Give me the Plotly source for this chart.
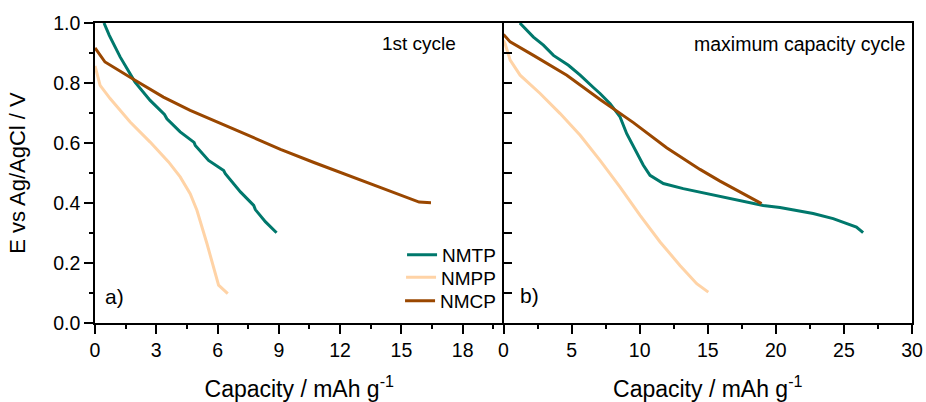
import plotly.graph_objects as go

# ---- data: panel a) 1st cycle ----
a_nmtp_x = [0.44, 0.70, 1.23, 1.96, 2.70, 3.40, 3.52, 4.17, 4.85, 4.91, 5.56, 6.30, 6.38, 7.12, 7.77, 7.85, 8.35, 8.89]
a_nmtp_y = [1.00, 0.959, 0.887, 0.803, 0.742, 0.695, 0.681, 0.637, 0.602, 0.592, 0.542, 0.508, 0.498, 0.437, 0.392, 0.378, 0.337, 0.301]

a_nmpp_x = [0.00, 0.25, 0.74, 1.72, 2.70, 3.60, 4.17, 4.66, 4.99, 5.48, 6.05, 6.50]
a_nmpp_y = [0.857, 0.792, 0.748, 0.670, 0.603, 0.537, 0.487, 0.431, 0.376, 0.265, 0.126, 0.098]

a_nmcp_x = [0.00, 0.49, 1.96, 3.35, 4.66, 6.14, 7.77, 9.08, 10.72, 12.36, 13.99, 15.87, 16.45]
a_nmcp_y = [0.917, 0.870, 0.809, 0.753, 0.709, 0.665, 0.618, 0.579, 0.535, 0.492, 0.451, 0.403, 0.401]

# ---- data: panel b) maximum capacity cycle ----
b_nmtp_x = [1.20, 2.20, 2.93, 3.67, 4.77, 5.63, 6.60, 7.09, 7.83, 8.56, 9.05, 9.54, 10.27, 10.76, 11.74,
            13.20, 14.43, 15.90, 16.87, 19.07, 20.30, 22.74, 24.21, 25.92, 26.41]
b_nmtp_y = [1.00, 0.953, 0.926, 0.892, 0.859, 0.826, 0.785, 0.765, 0.731, 0.687, 0.631, 0.587, 0.526, 0.492, 0.465,
            0.448, 0.436, 0.422, 0.412, 0.392, 0.385, 0.365, 0.348, 0.320, 0.301]

b_nmpp_x = [0.00, 0.12, 0.49, 1.22, 2.69, 4.16, 5.63, 7.09, 8.56, 10.03, 11.50, 12.96, 14.19, 15.04]
b_nmpp_y = [0.942, 0.931, 0.876, 0.826, 0.765, 0.698, 0.626, 0.542, 0.453, 0.359, 0.270, 0.192, 0.131, 0.103]

b_nmcp_x = [0.00, 0.49, 2.20, 4.65, 7.09, 9.54, 11.98, 14.43, 15.90, 17.60, 18.95]
b_nmcp_y = [0.962, 0.937, 0.892, 0.826, 0.745, 0.668, 0.584, 0.512, 0.473, 0.431, 0.398]

names = ["NMTP", "NMPP", "NMCP"]
colors = ["#00786C", "#FFD3A6", "#9A4700"]
legend_ids = ["legend", "legend2", "legend3"]
legend_rows = [0.227, 0.152, 0.074]

FONT = "Liberation Sans"

fig = go.Figure()
panel_a = [(a_nmtp_x, a_nmtp_y), (a_nmpp_x, a_nmpp_y), (a_nmcp_x, a_nmcp_y)]
panel_b = [(b_nmtp_x, b_nmtp_y), (b_nmpp_x, b_nmpp_y), (b_nmcp_x, b_nmcp_y)]
for (x, y), n, c, lg in zip(panel_a, names, colors, legend_ids):
    fig.add_trace(go.Scatter(x=x, y=y, mode="lines", name=n, legend=lg,
                             line=dict(color=c, width=3), xaxis="x", yaxis="y"))
for (x, y), n, c in zip(panel_b, names, colors):
    fig.add_trace(go.Scatter(x=x, y=y, mode="lines", name=n, showlegend=False,
                             line=dict(color=c, width=3), xaxis="x2", yaxis="y2"))

axis_common = dict(showgrid=False, zeroline=False, showline=True, linecolor="black",
                   linewidth=1.5, tickcolor="black", tickwidth=1.5, automargin=False,
                   tickfont=dict(family=FONT, size=19.5, color="black"))

xtitle = dict(text="Capacity / mAh g<sup>-1</sup>", font=dict(family=FONT, size=23, color="black"), standoff=22)

legend_style = dict(xanchor="right", yanchor="middle", bgcolor="rgba(0,0,0,0)",
                    font=dict(family=FONT, size=19, color="black"))

fig.update_layout(
    width=926, height=402,
    margin=dict(l=95, r=14, t=23, b=79),
    paper_bgcolor="white", plot_bgcolor="white",
    font=dict(family=FONT, color="black"),
    xaxis=dict(domain=[0, 0.5], range=[0, 20], tick0=0, dtick=3, ticks="outside", ticklen=9,
               mirror=True, anchor="y",
               minor=dict(ticks="outside", dtick=1.5, tick0=0, ticklen=4, tickcolor="black", tickwidth=1.5),
               title=xtitle, **axis_common),
    yaxis=dict(domain=[0, 1], range=[0, 1], tick0=0, dtick=0.2, tickformat=".1f", ticks="outside", ticklen=9,
               anchor="x",
               minor=dict(ticks="outside", dtick=0.1, tick0=0, ticklen=4, tickcolor="black", tickwidth=1.5),
               title=dict(text="E vs Ag/AgCl / V", font=dict(family=FONT, size=22, color="black"), standoff=22),
               **axis_common),
    xaxis2=dict(domain=[0.5, 1], range=[0, 30], tick0=0, dtick=5, ticks="outside", ticklen=9,
                mirror=True, anchor="y2",
                minor=dict(ticks="outside", dtick=2.5, tick0=0, ticklen=4, tickcolor="black", tickwidth=1.5),
                title=xtitle, **axis_common),
    yaxis2=dict(domain=[0, 1], range=[0, 1], tick0=0, dtick=0.1, ticks="inside", ticklen=9,
                showticklabels=False, mirror=True, anchor="x2", **axis_common),
    legend=dict(x=0.497, y=legend_rows[0], **legend_style),
    legend2=dict(x=0.497, y=legend_rows[1], **legend_style),
    legend3=dict(x=0.497, y=legend_rows[2], **legend_style),
    showlegend=True,
    annotations=[
        dict(text="1st cycle", xref="paper", yref="paper", x=0.3964, y=0.932, xanchor="center", yanchor="middle",
             showarrow=False, font=dict(family=FONT, size=19, color="black")),
        dict(text="maximum capacity cycle", xref="paper", yref="paper", x=0.9944, y=0.929, xanchor="right",
             yanchor="middle", showarrow=False, font=dict(family=FONT, size=19.5, color="black")),
        dict(text="a)", xref="paper", yref="paper", x=0.0102, y=0.087, xanchor="left", yanchor="middle",
             showarrow=False, font=dict(family=FONT, size=21, color="black")),
        dict(text="b)", xref="paper", yref="paper", x=0.518, y=0.092, xanchor="left", yanchor="middle",
             showarrow=False, font=dict(family=FONT, size=21, color="black")),
    ],
)

fig.write_html("out.html", config={"displayModeBar": False},
               post_script="document.body.style.margin='0';document.body.style.overflow='hidden';")
